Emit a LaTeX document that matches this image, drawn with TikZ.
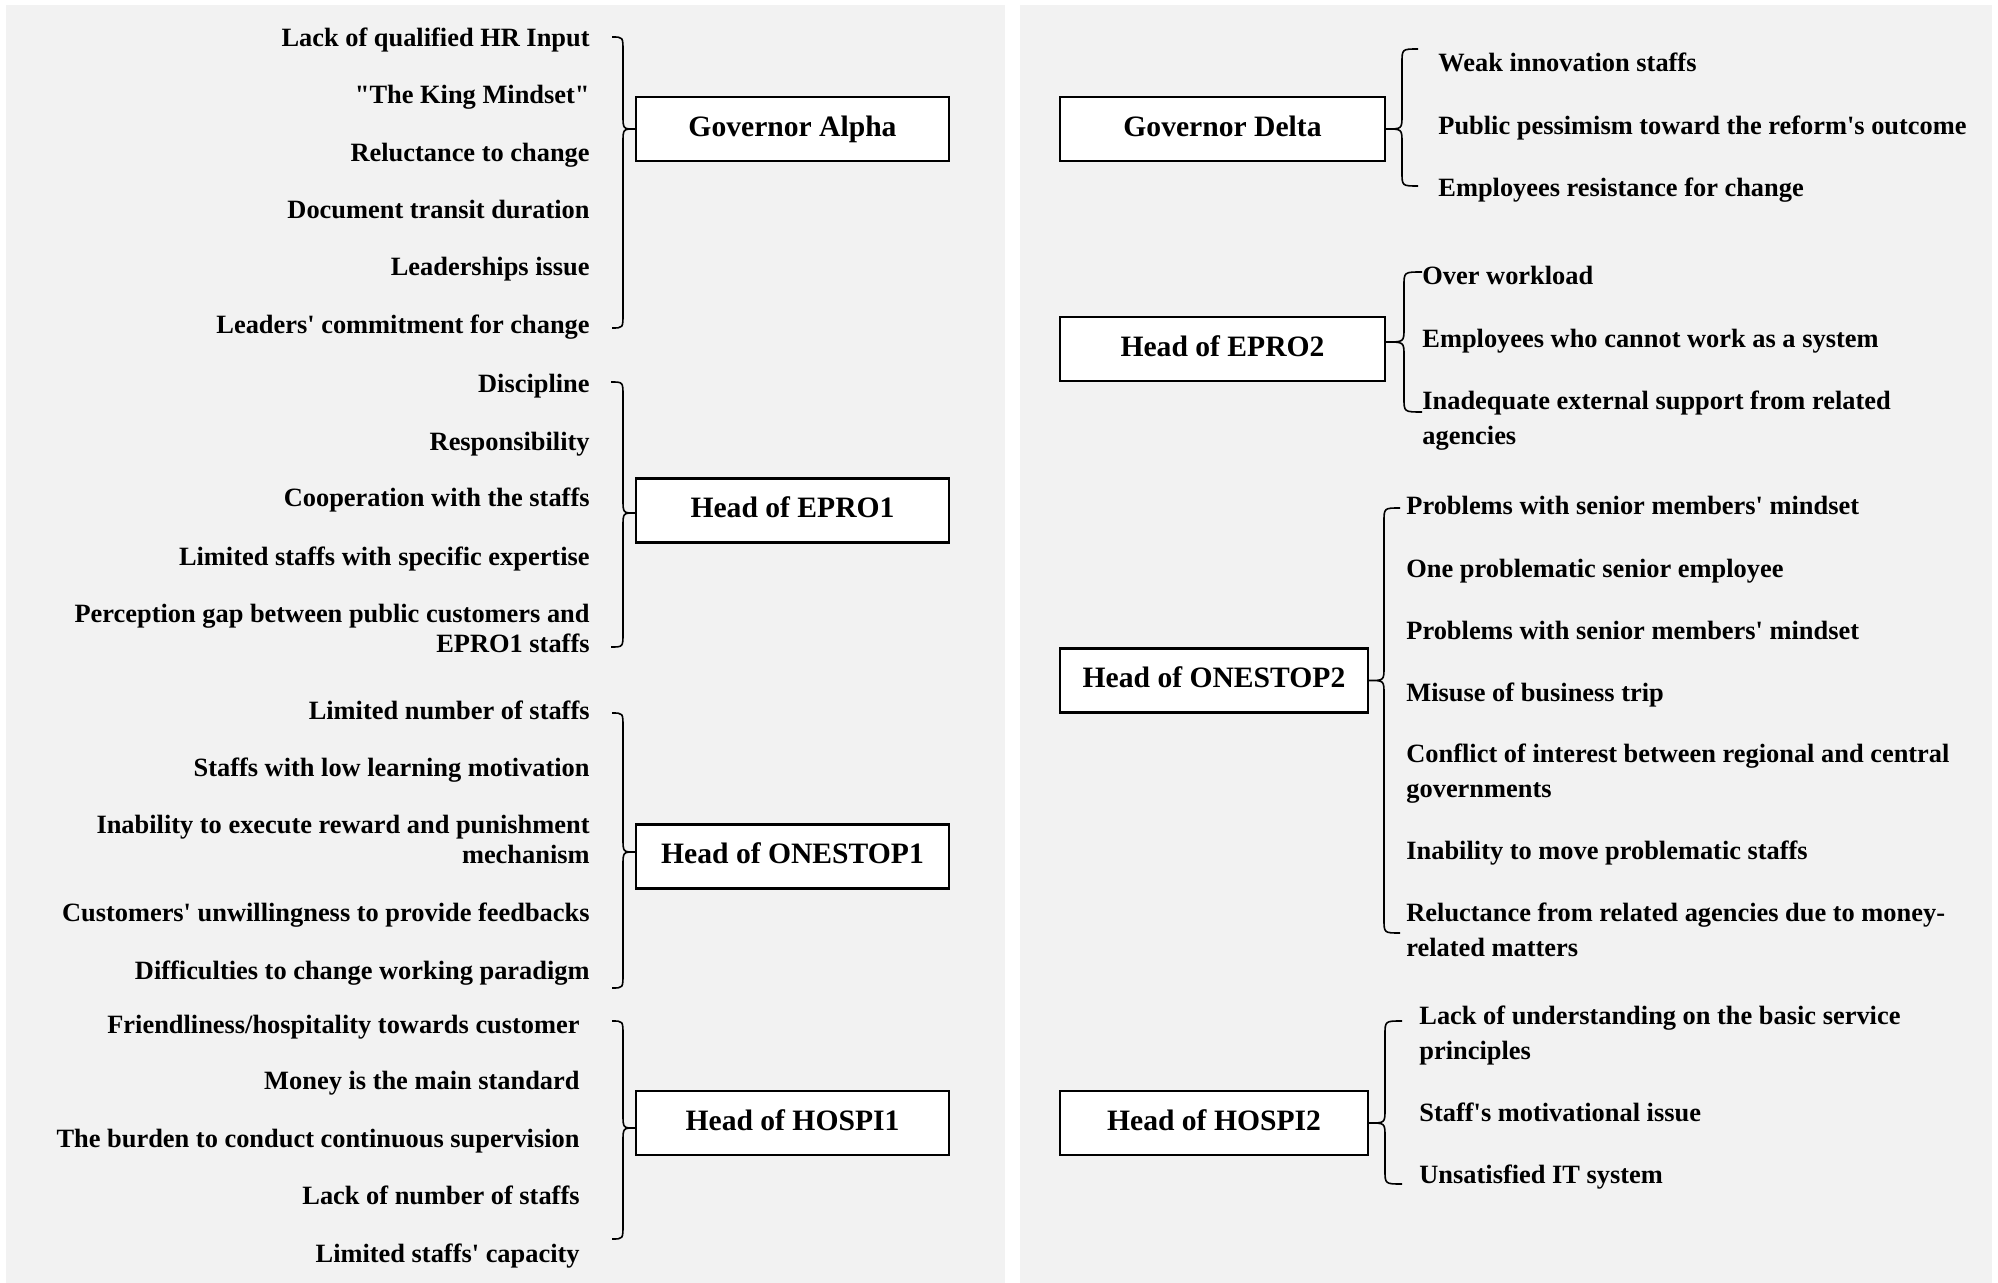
\documentclass[tikz,border=0pt]{standalone}
\usepackage{fontspec}
\setmainfont{Liberation Serif}[Ligatures=TeXOff]
\begin{document}
\begin{tikzpicture}[x=0.5pt,y=-0.5pt,
  panel/.style={fill=panelgray,draw=none},
  headbox/.style={draw=black,fill=white,line width=1.1pt,inner sep=0pt,
    minimum height=32pt,text height=0.72em,text depth=0pt,
    font=\fontsize{14.8}{17}\selectfont\bfseries},
  lbox/.style={headbox,minimum width=156.5pt},
  rbox/.style={headbox,minimum width=162.5pt},
  sbox/.style={headbox,minimum width=154pt},
  itemL/.style={anchor=east,inner sep=0pt,align=right,text height=0.66em,text depth=0pt,
    font=\fontsize{13.2}{15.2}\selectfont\bfseries},
  itemR/.style={anchor=west,inner sep=0pt,align=left,text height=0.66em,text depth=0pt,
    font=\fontsize{13.2}{17.5}\selectfont\bfseries},
  brc/.style={draw=black,line width=0.8pt}]
\definecolor{panelgray}{RGB}{242,242,242}

% canvas and the two panels
\fill[white] (0,0) rectangle (1998,1283);
\useasboundingbox (0,0) rectangle (1998,1283);
\path[panel] (6,5) rectangle (1005,1283);
\path[panel] (1020,5) rectangle (1992,1283);

% ---------------- left panel: heads ----------------
\node[lbox] (ga)  at (792.5,129)   {Governor Alpha};
\node[lbox] (ep1) at (792.5,510.5) {Head of EPRO1};
\node[lbox] (os1) at (792.5,856.5) {Head of ONESTOP1};
\node[lbox] (hs1) at (792.5,1123)  {Head of HOSPI1};

% Governor Alpha issues (multi-line items are placed by their last line)
\node[itemL] (ga1) at (590,40)  {Lack of qualified HR Input};
\node[itemL] (ga2) at (590,97)  {"The King Mindset"};
\node[itemL] (ga3) at (590,155) {Reluctance to change};
\node[itemL] (ga4) at (590,212) {Document transit duration};
\node[itemL] (ga5) at (590,269) {Leaderships issue};
\node[itemL] (ga6) at (590,327) {Leaders' commitment for change};
\draw[brc] (612,37) .. controls (623,37) .. (623,51) -- (623,115)
  .. controls (623,129) .. (ga.west) .. controls (623,129) .. (623,143)
  -- (623,314) .. controls (623,328) .. (612,328);

% EPRO1 issues
\node[itemL] (e11) at (590,386) {Discipline};
\node[itemL] (e12) at (590,444) {Responsibility};
\node[itemL] (e13) at (590,500) {Cooperation with the staffs};
\node[itemL] (e14) at (590,559) {Limited staffs with specific expertise};
\node[itemL] (e15) at (590,646) {Perception gap between public customers and\\EPRO1 staffs};
\draw[brc] (611,382) .. controls (623,382) .. (623,396) -- (623,499)
  .. controls (623,513) .. ([yshift=-1.25pt]ep1.west) .. controls (623,513) .. (623,527)
  -- (623,633) .. controls (623,647) .. (611,647);

% ONESTOP1 issues
\node[itemL] (o11) at (590,713) {Limited number of staffs};
\node[itemL] (o12) at (590,770) {Staffs with low learning motivation};
\node[itemL] (o13) at (590,857) {Inability to execute reward and punishment\\mechanism};
\node[itemL] (o14) at (590,915) {Customers' unwillingness to provide feedbacks};
\node[itemL] (o15) at (590,973) {Difficulties to change working paradigm};
\draw[brc] (612,713) .. controls (623,713) .. (623,727) -- (623,838)
  .. controls (623,852) .. ([yshift=2.25pt]os1.west) .. controls (623,852) .. (623,866)
  -- (623,974) .. controls (623,988) .. (612,988);

% HOSPI1 issues
\node[itemL] (h11) at (580,1027) {Friendliness/hospitality towards customer};
\node[itemL] (h12) at (580,1083) {Money is the main standard};
\node[itemL] (h13) at (580,1141) {The burden to conduct continuous supervision};
\node[itemL] (h14) at (580,1198) {Lack of number of staffs};
\node[itemL] (h15) at (580,1256) {Limited staffs' capacity};
\draw[brc] (612,1021) .. controls (623,1021) .. (623,1035) -- (623,1114)
  .. controls (623,1128) .. ([yshift=-2.5pt]hs1.west) .. controls (623,1128) .. (623,1142)
  -- (623,1225) .. controls (623,1239) .. (612,1239);

% ---------------- right panel: heads ----------------
\node[rbox] (gd)  at (1222.5,129)   {Governor Delta};
\node[rbox] (ep2) at (1222.5,349)   {Head of EPRO2};
\node[sbox] (os2) at (1214,680.5)   {Head of ONESTOP2};
\node[sbox] (hs2) at (1214,1123)    {Head of HOSPI2};

% Governor Delta issues
\node[itemR] (gd1) at (1438,65)  {Weak innovation staffs};
\node[itemR] (gd2) at (1438,128) {Public pessimism toward the reform's outcome};
\node[itemR] (gd3) at (1438,190) {Employees resistance for change};
\draw[brc] (1418,49) .. controls (1402,49) .. (1402,63) -- (1402,115)
  .. controls (1402,129) .. (gd.east) .. controls (1402,129) .. (1402,143)
  -- (1402,172) .. controls (1402,186) .. (1418,186);

% EPRO2 issues
\node[itemR] (e21) at (1422,278) {Over workload};
\node[itemR] (e22) at (1422,341) {Employees who cannot work as a system};
\node[itemR] (e23) at (1422,438) {Inadequate external support from related\\agencies};
\draw[brc] (1422,272) .. controls (1404,272) .. (1404,286) -- (1404,328)
  .. controls (1404,342) .. ([yshift=3.5pt]ep2.east) .. controls (1404,342) .. (1404,356)
  -- (1404,398) .. controls (1404,412) .. (1422,412);

% ONESTOP2 issues
\node[itemR] (o21) at (1406,508) {Problems with senior members' mindset};
\node[itemR] (o22) at (1406,571) {One problematic senior employee};
\node[itemR] (o23) at (1406,633) {Problems with senior members' mindset};
\node[itemR] (o24) at (1406,695) {Misuse of business trip};
\node[itemR] (o25) at (1406,791) {Conflict of interest between regional and central\\governments};
\node[itemR] (o26) at (1406,853) {Inability to move problematic staffs};
\node[itemR] (o27) at (1406,950) {Reluctance from related agencies due to money-\\related matters};
\draw[brc] (1400,508) .. controls (1384,508) .. (1384,522) -- (1384,666.5)
  .. controls (1384,680.5) .. (os2.east) .. controls (1384,680.5) .. (1384,694.5)
  -- (1384,919) .. controls (1384,933) .. (1400,933);

% HOSPI2 issues
\node[itemR] (h21) at (1419,1053) {Lack of understanding on the basic service\\principles};
\node[itemR] (h22) at (1419,1115) {Staff's motivational issue};
\node[itemR] (h23) at (1419,1177) {Unsatisfied IT system};
\draw[brc] (1402,1021) .. controls (1385,1021) .. (1385,1035) -- (1385,1109)
  .. controls (1385,1123) .. (hs2.east) .. controls (1385,1123) .. (1385,1137)
  -- (1385,1170) .. controls (1385,1184) .. (1402,1184);
\end{tikzpicture}
\end{document}
